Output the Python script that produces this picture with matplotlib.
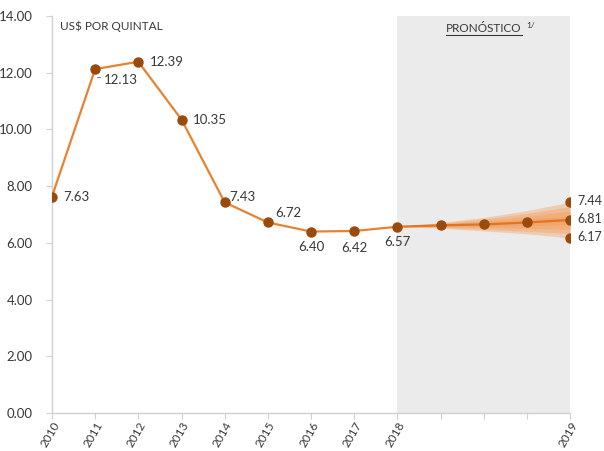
import matplotlib
matplotlib.use("Agg")
import matplotlib.pyplot as plt
from matplotlib.lines import Line2D

plt.rcParams['font.family'] = ['Lato', 'DejaVu Sans']

# Historical annual prices (US$ per quintal)
years = ["2010", "2011", "2012", "2013", "2014", "2015", "2016", "2017", "2018"]
prices = [7.63, 12.13, 12.39, 10.35, 7.43, 6.72, 6.40, 6.42, 6.57]

# Quarterly forecast path from 2018 to 2019
forecast_mid = [6.57, 6.62, 6.65, 6.72, 6.81]
forecast_high = 7.44
forecast_low = 6.17

# Fan-chart bands (outer to inner), one value per forecast step
band_upper = [
    [6.57, 6.72, 6.90, 7.14, 7.44],
    [6.57, 6.69, 6.84, 7.04, 7.28],
    [6.57, 6.66, 6.78, 6.94, 7.12],
    [6.57, 6.64, 6.72, 6.84, 6.96],
]
band_lower = [
    [6.57, 6.52, 6.42, 6.32, 6.17],
    [6.57, 6.55, 6.48, 6.41, 6.33],
    [6.57, 6.58, 6.54, 6.51, 6.49],
    [6.57, 6.60, 6.59, 6.61, 6.65],
]

tick_labels = years + ["", "", "", "2019"]

line_color = "#e8822f"
dot_color = "#9a4a0c"
text_color = "#383838"

fig = plt.figure(figsize=(6.04, 4.51), dpi=100)
ax = fig.add_axes([0.086, 0.0843, 0.858, 0.880])

n_hist = len(prices)
x_hist = list(range(n_hist))
x_fc = list(range(n_hist - 1, n_hist - 1 + len(forecast_mid)))
x_end = x_fc[-1]

# Shaded forecast window
ax.axvspan(x_fc[0], x_end, color="#ebebeb", zorder=0, lw=0)

# Fan bands
for up, lo in zip(band_upper, band_lower):
    ax.fill_between(x_fc, lo, up, color="#f39a55", alpha=0.36, lw=0, zorder=1)

ax.plot(x_hist, prices, color=line_color, lw=1.6, zorder=3)
ax.plot(x_fc, forecast_mid, color="#e37420", lw=1.6, zorder=3)
ax.plot(x_hist, prices, 'o', color=dot_color, ms=6.5, zorder=4)
ax.plot(x_fc[1:], forecast_mid[1:], 'o', color=dot_color, ms=6.5, zorder=4)
ax.plot([x_end, x_end], [forecast_high, forecast_low], 'o', color=dot_color, ms=6.5, zorder=4, ls='none')

# Value labels: (dx, dy) in points, alignment
offsets = [
    (8, 0, 'left', 'center'),
    (6, -8, 'left', 'center'),
    (8, 0, 'left', 'center'),
    (8, 0, 'left', 'center'),
    (3, 4, 'left', 'center'),
    (5, 7, 'left', 'center'),
    (0, -11, 'center', 'center'),
    (0, -12, 'center', 'center'),
    (0, -11, 'center', 'center'),
]
for xi, v, (dx, dy, ha, va) in zip(x_hist, prices, offsets):
    ax.annotate(f"{v:.2f}", (xi, v), xytext=(dx, dy), textcoords="offset points",
                ha=ha, va=va, fontsize=9.5, color=text_color, zorder=5)
ax.plot([1.04, 1.11], [11.86, 11.86], color="#888888", lw=0.7, zorder=5)

for v in (forecast_high, forecast_mid[-1], forecast_low):
    ax.annotate(f"{v:.2f}", (x_end, v), xytext=(5, 1), textcoords="offset points",
                ha='left', va='center', fontsize=9, color=text_color, zorder=5,
                annotation_clip=False)

ax.set_xlim(0, x_end)
ax.set_ylim(0, 14)
ax.set_yticks([0, 2, 4, 6, 8, 10, 12, 14])
ax.set_yticklabels([f"{t:.2f}" for t in [0, 2, 4, 6, 8, 10, 12, 14]])
ax.set_xticks(range(len(tick_labels)))
ax.set_xticklabels(tick_labels, rotation=60, ha='right', rotation_mode='anchor')

for s in ("top", "right"):
    ax.spines[s].set_visible(False)
for s in ("left", "bottom"):
    ax.spines[s].set_color("#d0d0d0")
    ax.spines[s].set_linewidth(1.0)
ax.tick_params(axis='both', colors="#d0d0d0", labelcolor=text_color, labelsize=9.5,
               length=4, width=0.8)
ax.tick_params(axis='y', pad=10)
ax.tick_params(axis='x', pad=1, labelsize=8.5)

ax.text(0.015, 0.99, "US$ POR QUINTAL", transform=ax.transAxes, fontsize=8.5,
        color=text_color, ha='left', va='top')

t = ax.text(10.0, 13.75, "PRONÓSTICO", fontsize=8.5, color=text_color,
            ha='center', va='top', zorder=5)
fig.canvas.draw()
bb = t.get_window_extent().transformed(fig.transFigure.inverted())
fig.add_artist(Line2D([bb.x0, bb.x1], [bb.y0 - 0.002, bb.y0 - 0.002],
                      color=text_color, lw=0.8, transform=fig.transFigure))
ax.text(bb.x1 + 0.008, bb.y1 + 0.002, "1/", transform=fig.transFigure,
        fontsize=6, color=text_color, ha='left', va='top')

fig.savefig("out.png", dpi=100)
